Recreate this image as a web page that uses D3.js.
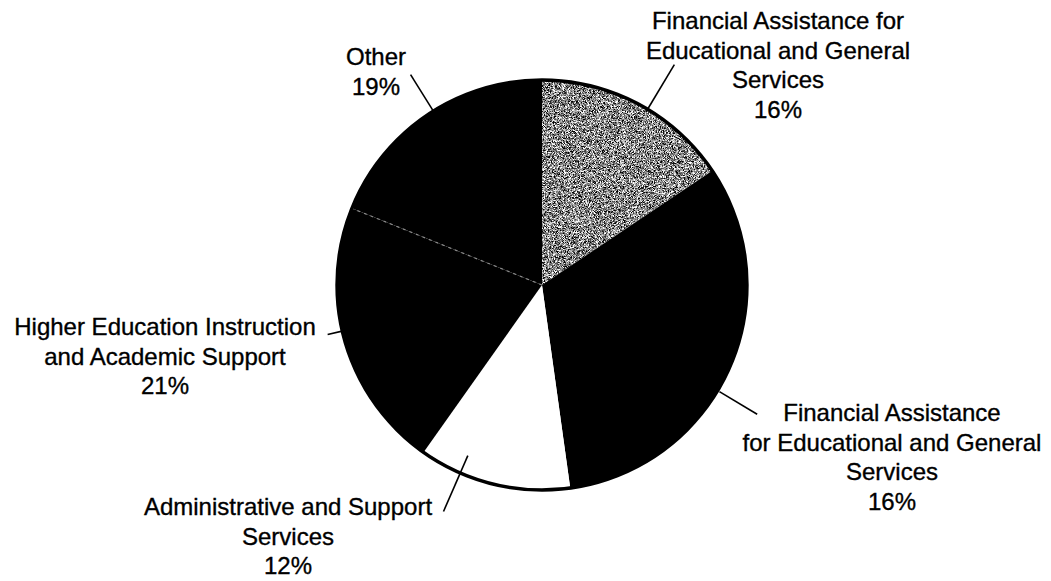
<!DOCTYPE html>
<html>
<head>
<meta charset="utf-8">
<script src="https://cdn.jsdelivr.net/npm/d3@7"></script>
<style>
  html, body { margin: 0; padding: 0; background: #fff; }
  svg { display: block; }
  text { font-family: "Liberation Sans", Arial, Helvetica, sans-serif; fill: #000; }
</style>
</head>
<body>
<svg id="chart" width="1051" height="581"></svg>
<script>
// ---- data ----
const categories = [
  "Financial Assistance for Educational and General Services (A)",
  "Financial Assistance for Educational and General Services (B)",
  "Administrative and Support Services",
  "Higher Education Instruction and Academic Support",
  "Other"
];
const values = [15.6, 32.2, 12.0, 21.3, 18.9];
const labelLines = [
  ["Financial Assistance for", "Educational and General", "Services", "16%"],
  ["Financial Assistance", "for Educational and General", "Services", "16%"],
  ["Administrative and Support", "Services", "12%"],
  ["Higher Education Instruction", "and Academic Support", "21%"],
  ["Other", "19%"]
];

// ---- layout / style ----
const W = 1051, H = 581;
const cx = 542, cy = 285, R = 205;
const fills = ["url(#grayTex)", "#000", "#fff", "#000", "#000"];
const labelPos = [
  { x: 778, y: 29 },
  { x: 892, y: 421 },
  { x: 288, y: 515 },
  { x: 165, y: 335 },
  { x: 376, y: 65 }
];
const leaders = [
  { a: 31, r0: 203, r1: 257 },
  { a: 121, r0: 207, r1: 251 },
  { a: 203.5, r0: 186, r1: 247 },
  { a: 257, r0: 204, r1: 220 },
  { a: 328, r0: 203, r1: 248 }
];
const fontSize = 24, lineH = 29.7;

const svg = d3.select("#chart");
const defs = svg.append("defs");

// speckled gray texture for first slice
const f = defs.append("filter").attr("id", "speckle")
  .attr("x", 0).attr("y", 0).attr("width", 1).attr("height", 1)
  .attr("color-interpolation-filters", "sRGB");
f.append("feTurbulence").attr("type", "fractalNoise").attr("baseFrequency", 2.2)
  .attr("numOctaves", 1).attr("seed", 7).attr("result", "noise");
f.append("feColorMatrix").attr("in", "noise").attr("type", "matrix")
  .attr("values", "1 0 0 0 0  1 0 0 0 0  1 0 0 0 0  0 0 0 0 1").attr("result", "gray");
const ct = f.append("feComponentTransfer").attr("in", "gray").attr("result", "contrast");
["feFuncR", "feFuncG", "feFuncB"].forEach(n =>
  ct.append(n).attr("type", "linear").attr("slope", 3.0).attr("intercept", -0.97));
f.append("feComposite").attr("in", "contrast").attr("in2", "SourceGraphic").attr("operator", "in");

const pat = defs.append("pattern").attr("id", "grayTex")
  .attr("patternUnits", "userSpaceOnUse").attr("width", 300).attr("height", 300);
pat.append("rect").attr("width", 300).attr("height", 300).attr("fill", "#888")
  .attr("filter", "url(#speckle)");

const g = svg.append("g").attr("transform", `translate(${cx},${cy})`);

const pie = d3.pie().sort(null).value(d => d)(values);
const arc = d3.arc().innerRadius(0).outerRadius(R);

g.selectAll("path.slice").data(pie).join("path")
  .attr("class", "slice")
  .attr("d", arc)
  .attr("fill", (d, i) => fills[i])
  .attr("stroke", "none");

// faint dotted boundary between slices 3 and 4
const bAng = pie[3].endAngle;
g.append("line")
  .attr("x1", 0).attr("y1", 0)
  .attr("x2", R * Math.sin(bAng)).attr("y2", -R * Math.cos(bAng))
  .attr("stroke", "#8a8a8a").attr("stroke-width", 1.2)
  .attr("stroke-dasharray", "3,4");

// outer outline
g.append("circle").attr("r", R).attr("fill", "none")
  .attr("stroke", "#000").attr("stroke-width", 3.4);

// leader lines
const rad = d => d * Math.PI / 180;
g.selectAll("line.leader").data(leaders).join("line")
  .attr("class", "leader")
  .attr("x1", d => d.r0 * Math.sin(rad(d.a)))
  .attr("y1", d => -d.r0 * Math.cos(rad(d.a)))
  .attr("x2", d => d.r1 * Math.sin(rad(d.a)))
  .attr("y2", d => -d.r1 * Math.cos(rad(d.a)))
  .attr("stroke", "#000").attr("stroke-width", 1.6);

// labels
svg.selectAll("text.lbl").data(labelLines).join("text")
  .attr("class", "lbl")
  .attr("text-anchor", "middle")
  .attr("font-size", fontSize)
  .attr("stroke", "#000").attr("stroke-width", 0.35)
  .each(function (lines, i) {
    const t = d3.select(this);
    lines.forEach((ln, k) => {
      t.append("tspan")
        .attr("x", labelPos[i].x)
        .attr("y", labelPos[i].y + k * lineH)
        .text(ln);
    });
  });
</script>
</body>
</html>
